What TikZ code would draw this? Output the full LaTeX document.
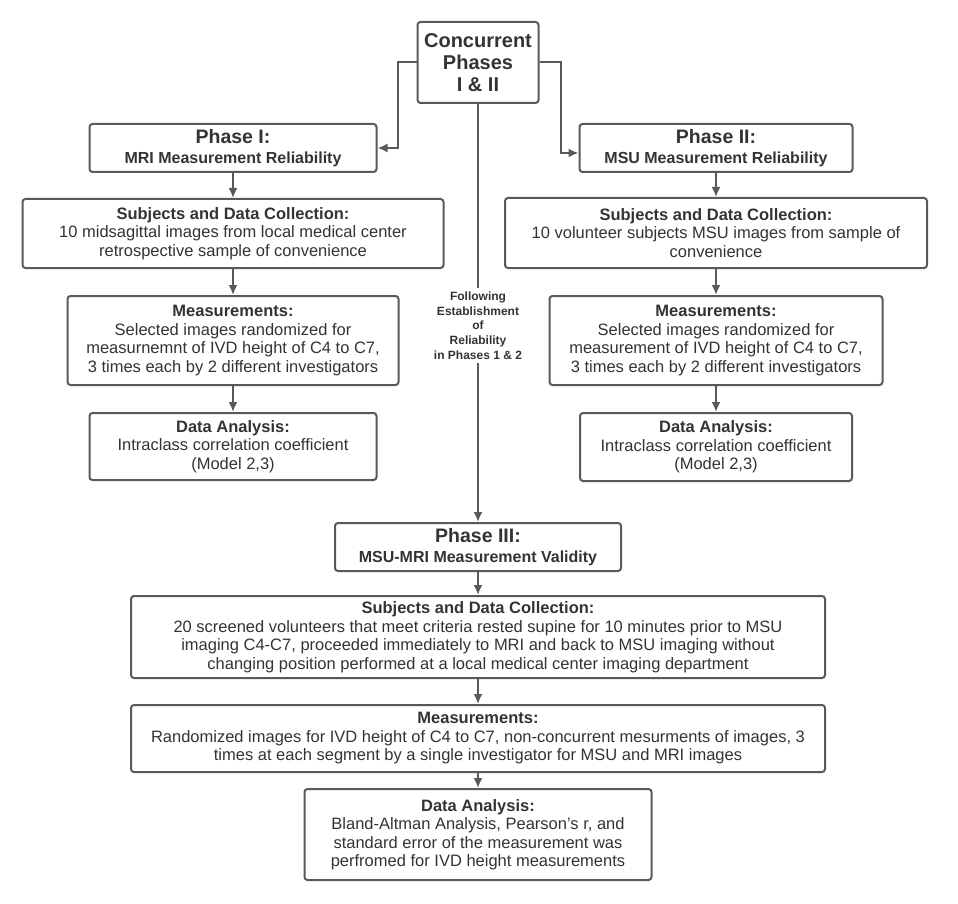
\documentclass[tikz,border=0pt]{standalone}
\usepackage{fontspec}
\setmainfont{Liberation Sans}
\usepackage{tikz}
\usetikzlibrary{arrows.meta}

\definecolor{linegray}{HTML}{595959}
\definecolor{textgray}{HTML}{333333}

\begin{document}
\begin{tikzpicture}[x=1pt,y=-1pt]
\tikzset{infobox/.style = {shape=rectangle,draw=linegray,line width=2pt,rounded corners=3pt,align=center,text=textgray,inner sep=0pt,font=\fontsize{16.5}{18.5}\selectfont}}
\tikzset{phasebox/.style = {infobox,font=\bfseries\fontsize{16}{20}\selectfont}}
\tikzset{edge/.style = {->,> = {Latex[length=10pt,width=9pt]},draw=linegray,line width=2pt}}
\useasboundingbox (0,0) rectangle (958,904);
% top
\node[infobox,minimum width=121,minimum height=81,font=\bfseries\fontsize{20}{22}\selectfont](conc) at (478, 62.5) {Concurrent\\ Phases\\ I \& II};
% phase I column
\node[phasebox,minimum width=287,minimum height=48](ph1) at (233, 148) {{\fontsize{19.5}{21}\selectfont Phase I:}\\ MRI Measurement Reliability};
\node[infobox,minimum width=421,minimum height=69](sub1) at (233, 233.5) {\textbf{Subjects and Data Collection:}\\ 10 midsagittal images from local medical center\\ retrospective sample of convenience};
\node[infobox,minimum width=331,minimum height=89](mea1) at (233, 340.5) {\textbf{Measurements:}\\ Selected images randomized for\\ measurnemnt of IVD height of C4 to C7,\\ 3 times each by 2 different investigators};
\node[infobox,minimum width=287,minimum height=67](dat1) at (233, 446.5) {\textbf{Data Analysis:}\\ Intraclass correlation coefficient\\ (Model 2,3)};
% phase II column
\node[phasebox,minimum width=273,minimum height=48](ph2) at (716, 148) {{\fontsize{19.5}{21}\selectfont Phase II:}\\ MSU Measurement Reliability};
\node[infobox,minimum width=422,minimum height=70](sub2) at (716, 233) {\textbf{Subjects and Data Collection:}\\ 10 volunteer subjects MSU images from sample of\\ convenience};
\node[infobox,minimum width=333,minimum height=89](mea2) at (716, 340.5) {\textbf{Measurements:}\\ Selected images randomized for\\ measurement of IVD height of C4 to C7,\\ 3 times each by 2 different investigators};
\node[infobox,minimum width=272,minimum height=68](dat2) at (716, 447) {\textbf{Data Analysis:}\\ Intraclass correlation coefficient\\ (Model 2,3)};
% phase III
\node[phasebox,minimum width=286,minimum height=48](ph3) at (478, 547) {{\fontsize{19.5}{21}\selectfont Phase III:}\\ MSU-MRI Measurement Validity};
\node[infobox,minimum width=694,minimum height=82](sub3) at (478, 637) {\textbf{Subjects and Data Collection:}\\ 20 screened volunteers that meet criteria rested supine for 10 minutes prior to MSU\\ imaging C4-C7, proceeded immediately to MRI and back to MSU imaging without\\ changing position performed at a local medical center imaging department};
\node[infobox,minimum width=694,minimum height=67](mea3) at (478, 738.5) {\textbf{Measurements:}\\ Randomized images for IVD height of C4 to C7, non-concurrent mesurments of images, 3\\ times at each segment by a single investigator for MSU and MRI images};
\node[infobox,minimum width=347,minimum height=91](dat3) at (478, 834.5) {\textbf{Data Analysis:}\\ Bland-Altman Analysis, Pearson's r, and\\ standard error of the measurement was\\ perfromed for IVD height measurements};
% connectors
\draw[edge] (conc.west) -- ++(-19,0) |- (ph1.east);
\draw[edge] (conc.east) -- ++(21,0) |- ([yshift=-5pt]ph2.west);
\draw[edge] (conc.south) -- (ph3.north) node[pos=0.53, fill=white, inner xsep=1pt, inner ysep=4pt, align=center, text=textgray, font=\bfseries\fontsize{12}{14.75}\selectfont] {Following\\ Establishment\\ of\\ Reliability\\ in Phases 1 \& 2};
\draw[edge] (ph1) -- (sub1);
\draw[edge] (sub1) -- (mea1);
\draw[edge] (mea1) -- (dat1);
\draw[edge] (ph2) -- (sub2);
\draw[edge] (sub2) -- (mea2);
\draw[edge] (mea2) -- (dat2);
\draw[edge] (ph3) -- (sub3);
\draw[edge] (sub3) -- (mea3);
\draw[edge] (mea3) -- (dat3);
\end{tikzpicture}
\end{document}
